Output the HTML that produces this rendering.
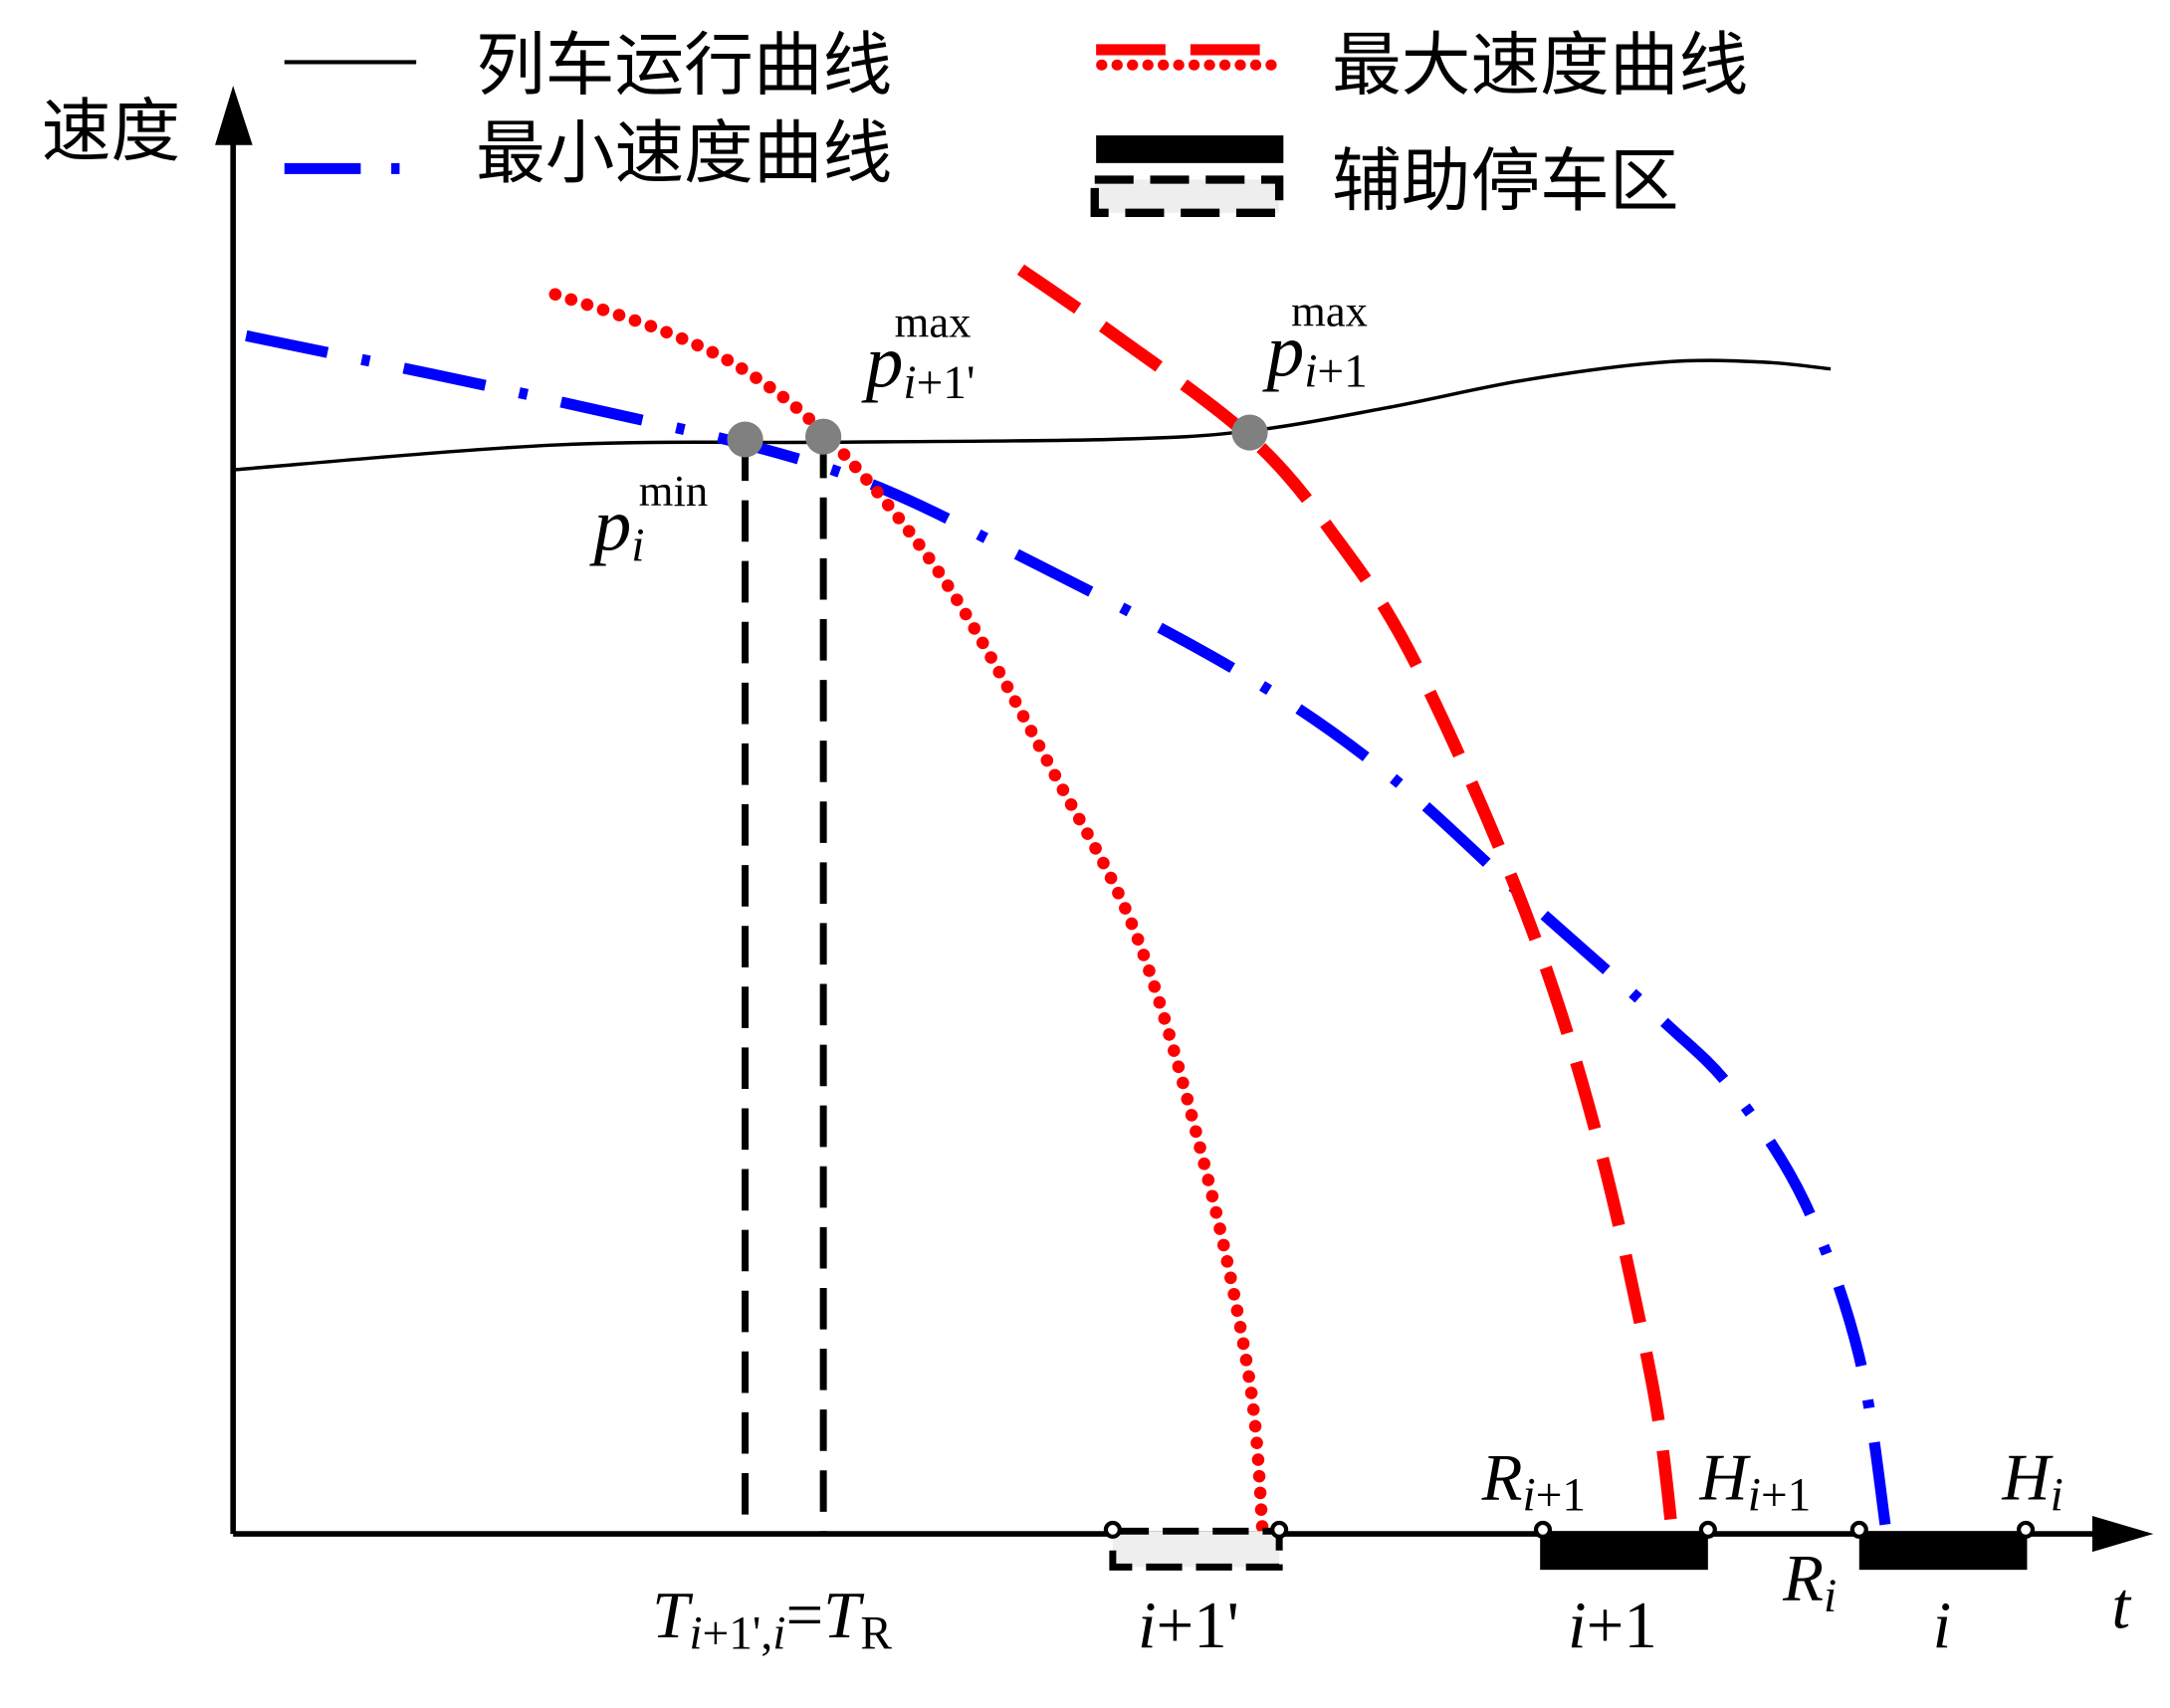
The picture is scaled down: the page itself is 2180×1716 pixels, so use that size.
<!DOCTYPE html>
<html><head><meta charset="utf-8">
<style>
html,body{margin:0;padding:0;background:#fff;}
svg{display:block;}
text{font-family:"Liberation Serif","Noto Serif CJK SC",serif;}
.cn{font-family:"Liberation Sans","Noto Sans CJK SC",sans-serif;font-size:50px;}
.it{font-style:italic;}
</style></head>
<body>
<svg id="chart" width="2180" height="1716" viewBox="0 0 1564 1236" preserveAspectRatio="none" xmlns="http://www.w3.org/2000/svg">
<rect width="1564" height="1236" fill="#fff"/>
<g id="curves"></g>
<line x1="168" y1="1110" x2="168" y2="95" stroke="#000" stroke-width="4"/>
<polygon points="168,62 155,105 182,105" fill="#000"/>
<line x1="168" y1="1110" x2="1515" y2="1110" stroke="#000" stroke-width="4"/>
<polygon points="1552,1110 1508,1097 1508,1123" fill="#000"/>
<text class="cn" x="30" y="112">速度</text>
<text class="it" x="1522" y="1178" font-size="48">t</text>
<g>
<line x1="205" y1="45" x2="300" y2="45" stroke="#000" stroke-width="3"/>
<text class="cn" x="343" y="64">列车运行曲线</text>
<line x1="205" y1="122" x2="300" y2="122" stroke="#00f" stroke-width="8" stroke-dasharray="55,22,6,22"/>
<text class="cn" x="343" y="128">最小速度曲线</text>
<line x1="790" y1="36" x2="925" y2="36" stroke="#f00" stroke-width="8" stroke-dasharray="50,18"/>
<line x1="794" y1="47" x2="925" y2="47" stroke="#f00" stroke-width="8" stroke-linecap="round" stroke-dasharray="0.1,11"/>
<text class="cn" x="960" y="64">最大速度曲线</text>
<rect x="790" y="98" width="135" height="20" fill="#000"/>
<rect x="789" y="130" width="133" height="24" fill="#eee" stroke="#000" stroke-width="6" stroke-dasharray="28,12"/>
<text class="cn" x="960" y="148">辅助停车区</text>
</g>
<rect x="802" y="1108" width="120" height="26" fill="#eee" stroke="#000" stroke-width="5" stroke-dasharray="26,10"/>
<rect x="1110" y="1108" width="121" height="28" fill="#000"/>
<rect x="1340" y="1108" width="121" height="28" fill="#000"/>
<g fill="#fff" stroke="#000" stroke-width="3">
<circle cx="802" cy="1107" r="5"/><circle cx="922" cy="1107" r="5"/>
<circle cx="1112" cy="1107" r="5"/><circle cx="1231" cy="1107" r="5"/>
<circle cx="1340" cy="1107" r="5"/><circle cx="1460" cy="1107" r="5"/>
</g>
<g font-size="48">
<text x="428" y="398"><tspan class="it" font-size="54">p</tspan><tspan class="it" font-size="34" dy="8">i</tspan><tspan font-size="32" dx="-4" dy="-40">min</tspan></text>
<text x="624" y="280"><tspan class="it" font-size="54">p</tspan><tspan class="it" font-size="34" dy="8">i</tspan><tspan font-size="34">+1'</tspan><tspan font-size="32" dx="-58" dy="-44">max</tspan></text>
<text x="913" y="272"><tspan class="it" font-size="54">p</tspan><tspan class="it" font-size="34" dy="8">i</tspan><tspan font-size="34">+1</tspan><tspan font-size="32" dx="-55" dy="-44">max</tspan></text>
<text x="470" y="1185"><tspan class="it">T</tspan><tspan font-size="34" dy="8"><tspan class="it">i</tspan>+1',<tspan class="it">i</tspan></tspan><tspan dy="-8">=</tspan><tspan class="it">T</tspan><tspan font-size="34" dy="8">R</tspan></text>
<text x="820" y="1192"><tspan class="it">i</tspan>+1'</text>
<text x="1130" y="1192"><tspan class="it">i</tspan>+1</text>
<text x="1393" y="1192" class="it">i</text>
<text x="1068" y="1085"><tspan class="it">R</tspan><tspan font-size="34" dy="8"><tspan class="it">i</tspan>+1</tspan></text>
<text x="1225" y="1085"><tspan class="it">H</tspan><tspan font-size="34" dy="8"><tspan class="it">i</tspan>+1</tspan></text>
<text x="1285" y="1158"><tspan class="it">R</tspan><tspan class="it" font-size="34" dy="8">i</tspan></text>
<text x="1443" y="1085"><tspan class="it">H</tspan><tspan class="it" font-size="34" dy="8">i</tspan></text>
</g>
</svg>
<script>
const trainT=[0,17.3,32.2,47.1,54.5,62,69.4,76.9,82.1,85.8];
const trainV=[77,78.8,79,79.2,79.8,81.5,83.5,84.8,84.8,84.3];
const minT=[0.7,17.3,32.2,43.4,54.5,62,69.4,76.9,80.6,84.4,87.3,88.8];
const minV=[86.7,82,77,70,62,55,46,37,32,24,13,0];
const maxPrimeT=[17.3,23.2,27.7,32.2,38.2,44.1,48.6,52.3,54.6,55.3];
const maxPrimeV=[89.7,87,84,79,69,55,43,26,11,0];
const maxT=[42.3,47.1,54.5,59,63.5,69.4,73.2,76.2,77.3];
const maxV=[91.5,87,79.5,72.5,63,45,29,11,0];
const markT=[27.5,31.7,54.6];
const markV=[79.2,79.4,79.7];
const guideT=[27.5,31.7];

const X=t=>168+t*13.42;
const Y=v=>1110-v*10;
const NS='http://www.w3.org/2000/svg';
const g=document.getElementById('curves');
function smooth(ts,vs){
  const p=ts.map((t,i)=>[X(t),Y(vs[i])]);
  let d='M'+p[0][0]+','+p[0][1];
  for(let i=0;i<p.length-1;i++){
    const p0=p[i-1]||p[i],p1=p[i],p2=p[i+1],p3=p[i+2]||p2;
    const c1=[p1[0]+(p2[0]-p0[0])/6,p1[1]+(p2[1]-p0[1])/6];
    const c2=[p2[0]-(p3[0]-p1[0])/6,p2[1]-(p3[1]-p1[1])/6];
    d+=' C'+c1+' '+c2+' '+p2;
  }
  return d;
}
function path(d,stroke,w,dash,cap){
  const e=document.createElementNS(NS,'path');
  e.setAttribute('d',d);e.setAttribute('fill','none');
  e.setAttribute('stroke',stroke);e.setAttribute('stroke-width',w);
  if(dash)e.setAttribute('stroke-dasharray',dash);
  if(cap)e.setAttribute('stroke-linecap',cap);
  g.appendChild(e);return e;
}
guideT.forEach((t,i)=>{
  const e=document.createElementNS(NS,'line');
  e.setAttribute('x1',X(t));e.setAttribute('x2',X(t));
  e.setAttribute('y1',Y(markV[i]));e.setAttribute('y2',Y(0));
  e.setAttribute('stroke','#000');e.setAttribute('stroke-width',5);
  e.setAttribute('stroke-dasharray','30,14');
  
  
  g.appendChild(e);
});
let e;
e=path(smooth(trainT,trainV),'#000',2.5);


e=path(smooth(minT,minV),'#00f',8,'60,25,6,25');


e=path(smooth(maxPrimeT,maxPrimeV),'#f00',9,'0.1,12','round');


e=path(smooth(maxT,maxV),'#f00',9,'50,22');


markT.forEach((t,i)=>{
  const c=document.createElementNS(NS,'circle');
  c.setAttribute('cx',X(t));c.setAttribute('cy',Y(markV[i]));
  c.setAttribute('r',13);c.setAttribute('fill','#808080');
  
  
  g.appendChild(c);
});
</script>
</body></html>
